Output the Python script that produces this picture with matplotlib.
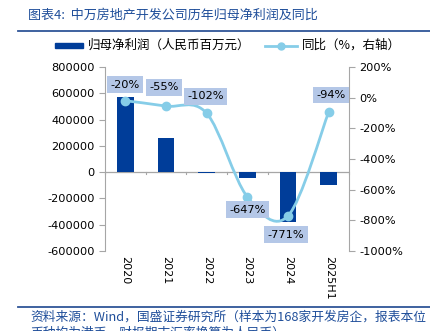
import numpy as np
import matplotlib
matplotlib.use("Agg")
import matplotlib.pyplot as plt
from matplotlib.path import Path
from matplotlib.patches import PathPatch, Rectangle
from matplotlib.lines import Line2D

plt.rcParams['font.family'] = ['DejaVu Sans', 'Noto Sans CJK SC']

# data
years = ["2020", "2021", "2022", "2023", "2024", "2025H1"]
profit = [568000, 259000, -8000, -43000, -379000, -96000]   # 人民币百万元
yoy = [-20, -55, -102, -647, -771, -94]                     # %
yoy_labels = ["-20%", "-55%", "-102%", "-647%", "-771%", "-94%"]
label_offsets = [(0, 16), (-2, 19), (-1, 17), (0, -13), (-2, -19), (2, 17)]

BAR = "#003D99"
LINE = "#86CDE8"
BOX = "#B4C7E7"
NAVY = "#1F4E9A"
GREY = "#A6A6A6"
CJK = ['Noto Sans CJK SC', 'DejaVu Sans']

W, H = 430, 331
fig = plt.figure(figsize=(W / 100, H / 100), dpi=100)


def fx(px):
    return px / W


def fy(py):
    return 1 - py / H


ax = fig.add_axes([fx(105), fy(251), fx(349) - fx(105), fy(67) - fy(251)])
ax2 = ax.twinx()

x = np.arange(len(years))
ax.bar(x, profit, width=0.41, color=BAR, zorder=2)
ax.set_xlim(-0.5, len(years) - 0.5)
ax.set_ylim(-600000, 800000)
ax.set_yticks(np.arange(-600000, 800001, 200000))
ax.set_yticklabels([f"{v:d}" for v in range(-600000, 800001, 200000)])
ax.axhline(0, color=GREY, lw=0.9, zorder=1)

# category ticks on the zero line
ax.set_xticks([])
for b in np.arange(-0.5, len(years), 1.0):
    ax.plot([b, b], [0, -12000], color=GREY, lw=0.8, clip_on=False, zorder=1)
for i, yr in enumerate(years):
    ax.text(i, -640000, yr, rotation=-90, ha="center", va="top", fontsize=8)

for a in (ax, ax2):
    a.spines["top"].set_visible(False)
    a.spines["bottom"].set_visible(False)
    a.spines["left"].set_color(GREY)
    a.spines["right"].set_color(GREY)
    a.tick_params(axis="y", colors=GREY, labelcolor="black", labelsize=8.2,
                  length=4, width=0.8)
ax2.spines["left"].set_visible(False)
ax.spines["right"].set_visible(False)

ax2.set_ylim(-1000, 200)
ax2.set_yticks(np.arange(-1000, 201, 200))
ax2.set_yticklabels([f"{v}%" for v in range(-1000, 201, 200)])

# smoothed line (Catmull-Rom -> cubic bezier)
pts = np.column_stack([x, yoy]).astype(float)
ext = np.vstack([pts[0], pts, pts[-1]])
verts = [tuple(pts[0])]
codes = [Path.MOVETO]
for i in range(1, len(ext) - 2):
    p0, p1, p2, p3 = ext[i - 1], ext[i], ext[i + 1], ext[i + 2]
    c1 = p1 + (p2 - p0) / 6
    c2 = p2 - (p3 - p1) / 6
    verts += [tuple(c1), tuple(c2), tuple(p2)]
    codes += [Path.CURVE4] * 3
ax2.add_patch(PathPatch(Path(verts, codes), fill=False, edgecolor=LINE, lw=2.0, zorder=3))
ax2.plot(x, yoy, "o", color=LINE, ms=6, zorder=4)

for xi, yi, lab, off in zip(x, yoy, yoy_labels, label_offsets):
    ax2.annotate(lab, (xi, yi), xytext=off, textcoords="offset pixels",
                 ha="center", va="center", fontsize=8.2, zorder=5,
                 bbox=dict(boxstyle="square,pad=0.3", fc=BOX, ec="none"))

# title, rules, legend, source
fig.text(fx(28), fy(15), "图表4:  中万房地产开发公司历年归母净利润及同比", family=CJK,
         fontsize=9.4, color=NAVY, style="italic", va="center", ha="left")
fig.add_artist(Line2D([fx(18), 1], [fy(31), fy(31)], color="#2F5597", lw=1.3))
fig.add_artist(Line2D([fx(18), 1], [fy(307), fy(307)], color="#2F5597", lw=1.3))

fig.add_artist(Rectangle((fx(55), fy(48)), fx(83) - fx(55), fy(43) - fy(48), color=BAR))
fig.text(fx(88), fy(45.5), "归母净利润（人民币百万元）", family=CJK, fontsize=9,
         va="center", ha="left")
fig.add_artist(Line2D([fx(265), fx(297)], [fy(45.5), fy(45.5)], color=LINE, lw=2.0))
fig.add_artist(Line2D([fx(281)], [fy(45.5)], color=LINE, marker="o", ms=5))
fig.text(fx(302), fy(45.5), "同比（%，右轴）", family=CJK, fontsize=9,
         va="center", ha="left")

fig.text(fx(30), fy(317), "资料来源：Wind，国盛证券研究所（样本为168家开发房企，报表本位", family=CJK,
         fontsize=9.2, color=NAVY, style="italic", va="center", ha="left")
fig.text(fx(30), fy(333), "币种均为港币，财报期末汇率换算为人民币）", family=CJK,
         fontsize=9.2, color=NAVY, style="italic", va="center", ha="left")

fig.savefig("out.png", dpi=100)
